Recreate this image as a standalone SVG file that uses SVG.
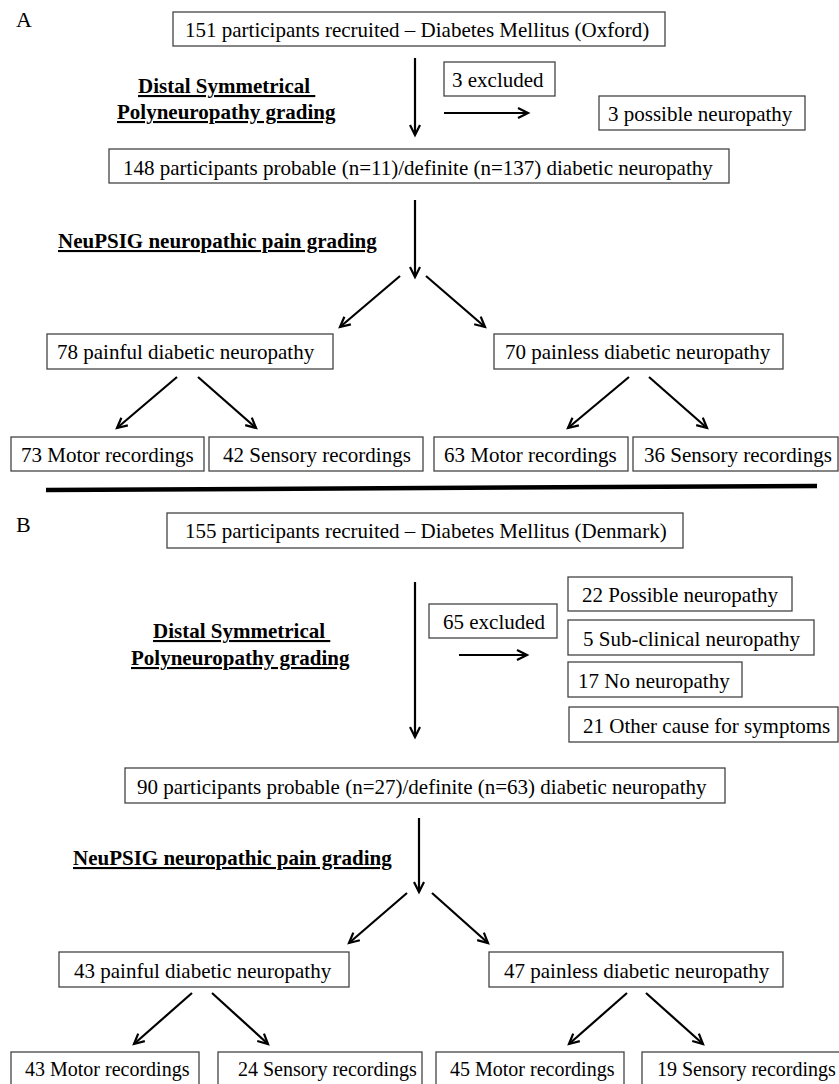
<svg xmlns="http://www.w3.org/2000/svg" width="839" height="1084" viewBox="0 0 839 1084">
<style>
.bx{fill:#fff;stroke:#444;stroke-width:1.3}
.t{font-family:"Liberation Serif","Times New Roman",serif;font-size:21px;fill:#000}
.s{font-size:20px}
.h{font-family:"Liberation Serif","Times New Roman",serif;font-size:21px;font-weight:bold;text-decoration:underline;fill:#000}
.c{stroke:#000;stroke-width:2.2;fill:none;marker-end:url(#ah)}
</style>
<defs>
<marker id="ah" markerUnits="userSpaceOnUse" viewBox="-1 -1 13 13" refX="10" refY="5" markerWidth="13" markerHeight="13" orient="auto" overflow="visible">
<path d="M0,0 L10,5 L0,10" fill="none" stroke="#000" stroke-width="2.2"/>
</marker>
</defs>
<rect width="839" height="1084" fill="#fff"/>

<text class="t" x="16" y="27" style="font-size:22px">A</text>
<text class="t" x="16" y="532" style="font-size:22px">B</text>

<g id="labels">
<text class="h" x="138" y="93" xml:space="preserve">Distal Symmetrical </text>
<text class="h" x="117" y="119">Polyneuropathy grading</text>
<text class="h" x="58" y="248">NeuPSIG neuropathic pain grading</text>
<text class="h" x="153" y="638" xml:space="preserve">Distal Symmetrical </text>
<text class="h" x="131" y="665">Polyneuropathy grading</text>
<text class="h" x="73" y="865">NeuPSIG neuropathic pain grading</text>
</g>

<g id="connectors">
<line class="c" x1="415" y1="58" x2="415" y2="135"/>
<line class="c" x1="444" y1="113" x2="528" y2="113"/>
<line class="c" x1="415" y1="200" x2="415" y2="277"/>
<line class="c" x1="400" y1="276" x2="340" y2="327"/>
<line class="c" x1="426" y1="276" x2="485" y2="327"/>
<line class="c" x1="177" y1="377" x2="117" y2="428"/>
<line class="c" x1="198" y1="377" x2="256" y2="428"/>
<line class="c" x1="629" y1="377" x2="568" y2="428"/>
<line class="c" x1="649" y1="377" x2="707" y2="428"/>
<line class="c" x1="415" y1="582" x2="415" y2="737"/>
<line class="c" x1="459" y1="655" x2="527" y2="655"/>
<line class="c" x1="419" y1="818" x2="419" y2="892"/>
<line class="c" x1="407" y1="893" x2="349" y2="943"/>
<line class="c" x1="432" y1="893" x2="488" y2="943"/>
<line class="c" x1="192" y1="993" x2="134" y2="1044"/>
<line class="c" x1="212" y1="993" x2="268" y2="1044"/>
<line class="c" x1="627" y1="993" x2="569" y2="1044"/>
<line class="c" x1="646" y1="993" x2="703" y2="1044"/>
<line x1="46" y1="490" x2="817" y2="486" stroke="#000" stroke-width="4.5"/>
</g>

<g id="a-recruited"><rect class="bx" x="173" y="12" width="492" height="34"/><text class="t" x="185" y="37">151 participants recruited – Diabetes Mellitus (Oxford)</text></g>
<g id="a-excluded"><rect class="bx" x="444" y="62" width="111" height="34"/><text class="t" x="452" y="87">3 excluded</text></g>
<g id="a-possible"><rect class="bx" x="599" y="96" width="206" height="34"/><text class="t" x="608" y="121">3 possible neuropathy</text></g>
<g id="a-probable"><rect class="bx" x="109" y="149" width="620" height="34"/><text class="t" x="123" y="175">148 participants probable (n=11)/definite (n=137) diabetic neuropathy</text></g>
<g id="a-painful"><rect class="bx" x="47" y="334" width="286" height="35"/><text class="t" x="57" y="359">78 painful diabetic neuropathy</text></g>
<g id="a-painless"><rect class="bx" x="494" y="334" width="289" height="35"/><text class="t" x="505" y="359">70 painless diabetic neuropathy</text></g>
<g id="a-motor1"><rect class="bx" x="11" y="437" width="193" height="34"/><text class="t" x="21" y="462">73 Motor recordings</text></g>
<g id="a-sensory1"><rect class="bx" x="209" y="437" width="214" height="34"/><text class="t" x="223" y="462">42 Sensory recordings</text></g>
<g id="a-motor2"><rect class="bx" x="434" y="437" width="194" height="34"/><text class="t" x="444" y="462">63 Motor recordings</text></g>
<g id="a-sensory2"><rect class="bx" x="633" y="437" width="205" height="34"/><text class="t" x="644" y="462">36 Sensory recordings</text></g>

<g id="b-recruited"><rect class="bx" x="167" y="513" width="516" height="35"/><text class="t" x="185" y="538">155 participants recruited – Diabetes Mellitus (Denmark)</text></g>
<g id="b-excluded"><rect class="bx" x="429" y="604" width="128" height="34"/><text class="t" x="443" y="629">65 excluded</text></g>
<g id="b-possible"><rect class="bx" x="568" y="577" width="224" height="34"/><text class="t" x="582" y="602">22 Possible neuropathy</text></g>
<g id="b-subclinical"><rect class="bx" x="568" y="620" width="246" height="35"/><text class="t" x="583" y="646">5 Sub-clinical neuropathy</text></g>
<g id="b-none"><rect class="bx" x="568" y="662" width="174" height="35"/><text class="t" x="578" y="688">17 No neuropathy</text></g>
<g id="b-other"><rect class="bx" x="569" y="707" width="269" height="35"/><text class="t" x="583" y="733">21 Other cause for symptoms</text></g>
<g id="b-probable"><rect class="bx" x="125" y="768" width="600" height="35"/><text class="t" x="137" y="794">90 participants probable (n=27)/definite (n=63) diabetic neuropathy</text></g>
<g id="b-painful"><rect class="bx" x="59" y="952" width="290" height="35"/><text class="t" x="74" y="978">43 painful diabetic neuropathy</text></g>
<g id="b-painless"><rect class="bx" x="489" y="952" width="294" height="35"/><text class="t" x="504" y="978">47 painless diabetic neuropathy</text></g>
<g id="b-motor1"><rect class="bx" x="11" y="1052" width="188" height="37"/><text class="t s" x="25" y="1076">43 Motor recordings</text></g>
<g id="b-sensory1"><rect class="bx" x="218" y="1052" width="204" height="37"/><text class="t s" x="238" y="1076">24 Sensory recordings</text></g>
<g id="b-motor2"><rect class="bx" x="436" y="1052" width="188" height="37"/><text class="t s" x="450" y="1076">45 Motor recordings</text></g>
<g id="b-sensory2"><rect class="bx" x="642" y="1052" width="200" height="37"/><text class="t s" x="657" y="1076">19 Sensory recordings</text></g>
</svg>
